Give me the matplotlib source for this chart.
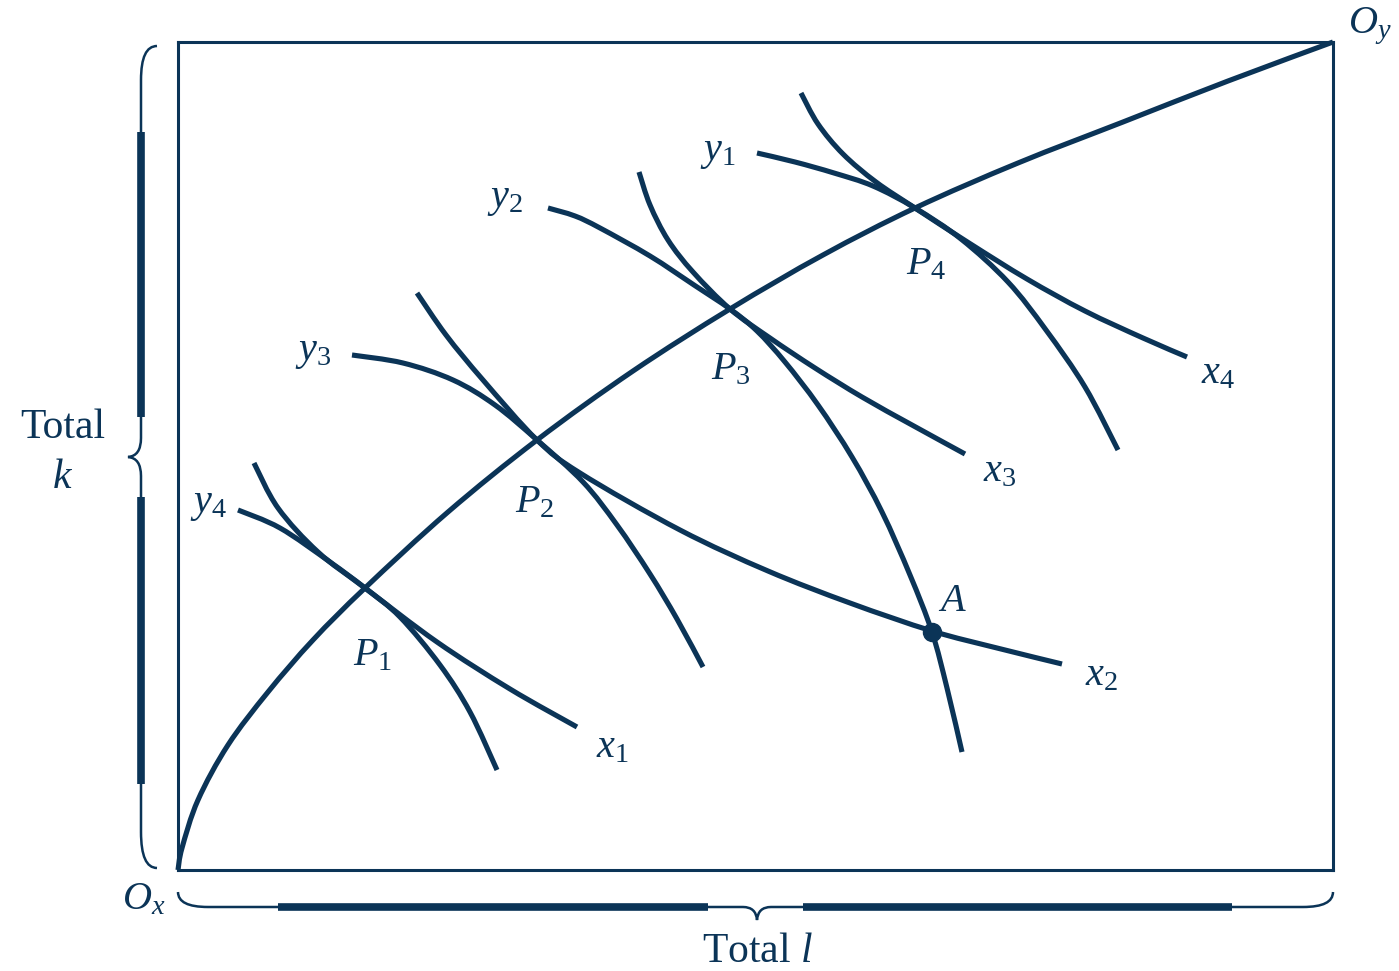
import matplotlib
matplotlib.use('Agg')
import matplotlib.pyplot as plt
from matplotlib.path import Path
from matplotlib.patches import PathPatch

plt.rcParams['font.family'] = ['Liberation Serif', 'DejaVu Serif']
plt.rcParams['mathtext.fontset'] = 'custom'
plt.rcParams['mathtext.it'] = 'Liberation Serif:italic'
plt.rcParams['mathtext.rm'] = 'Liberation Serif'

NAVY = '#0b3457'

# Box dimensions (total l horizontally, total k vertically, measured from O_x)
L_TOTAL = 1155
K_TOTAL = 828

# Contract curve from O_x to O_y
contract_l = [0, 4, 20, 50, 90, 135, 187, 270, 359, 455, 552, 645, 737, 840, 945, 1050, 1155]
contract_k = [0, 22, 70, 125, 178, 230, 282, 358, 430, 499, 561, 615, 662, 707, 748, 789, 828]

# Isoquants of good x (convex to O_x)
x1_l = [76, 100, 140, 187, 259, 332, 399]
x1_k = [407, 362, 318, 282, 228, 181, 143]
x2_l = [239, 268, 305, 359, 402, 502, 590, 672, 754, 819, 884]
x2_k = [577, 535, 490, 430, 397, 340, 299, 267, 239, 222, 206]
x3_l = [461, 472, 490, 515, 552, 592, 637, 684, 734, 787]
x3_k = [698, 665, 630, 598, 561, 532, 502, 473, 445, 416]
x4_l = [623, 640, 665, 698, 737, 791, 849, 907, 965, 1009]
x4_k = [777, 746, 716, 688, 662, 627, 591, 559, 532, 513]

# Isoquants of good y (convex to O_y)
y1_l = [579, 617, 656, 695, 737, 783, 830, 868, 907, 940]
y1_k = [717, 708, 697, 684, 662, 631, 588, 540, 483, 420]
y2_l = [370, 397, 422, 472, 516, 552, 579, 607, 640, 674, 704, 732, 754, 769, 784]
y2_k = [662, 654, 642, 614, 585, 561, 539, 508, 465, 413, 358, 295, 238, 182, 118]
y3_l = [174, 225, 275, 317, 359, 405, 439, 472, 499, 525]
y3_k = [515, 507, 490, 465, 430, 388, 345, 296, 251, 203]
y4_l = [60, 102, 152, 187, 222, 262, 292, 319]
y4_k = [360, 342, 308, 282, 253, 205, 158, 100]

# Point A (off the contract curve)
A_l = [754]
A_k = [238]


def smooth_path(xs, ys):
    pts = list(zip(xs, ys))
    n = len(pts)
    verts = [pts[0]]
    codes = [Path.MOVETO]
    for i in range(n - 1):
        p0 = pts[i - 1] if i > 0 else pts[i]
        p1 = pts[i]
        p2 = pts[i + 1]
        p3 = pts[i + 2] if i + 2 < n else pts[i + 1]
        c1 = (p1[0] + (p2[0] - p0[0]) / 6.0, p1[1] + (p2[1] - p0[1]) / 6.0)
        c2 = (p2[0] - (p3[0] - p1[0]) / 6.0, p2[1] - (p3[1] - p1[1]) / 6.0)
        verts += [c1, c2, p2]
        codes += [Path.CURVE4] * 3
    return Path(verts, codes)


W, H = 1399, 971
fig = plt.figure(figsize=(W / 100, H / 100), dpi=100)
ax = fig.add_axes([178 / W, 101 / H, 1155 / W, 828 / H])
ax.set_xlim(0, L_TOTAL)
ax.set_ylim(0, K_TOTAL)
ax.set_xticks([])
ax.set_yticks([])
for s in ax.spines.values():
    s.set_color(NAVY)
    s.set_linewidth(2.2)

CURVE_LW = 3.7
for xs, ys in [(contract_l, contract_k), (x1_l, x1_k), (x2_l, x2_k), (x3_l, x3_k), (x4_l, x4_k),
               (y1_l, y1_k), (y2_l, y2_k), (y3_l, y3_k), (y4_l, y4_k)]:
    ax.add_patch(PathPatch(smooth_path(xs, ys), facecolor='none', edgecolor=NAVY,
                           lw=CURVE_LW, capstyle='butt', joinstyle='round', clip_on=False))

ax.plot(A_l, A_k, 'o', color=NAVY, ms=13, clip_on=False)


def px(x, y):
    return (x - 178, 870 - y)


FS = 29
labels = [
    (r'$y_1$', 718, 152), (r'$y_2$', 505, 199), (r'$y_3$', 313, 352), (r'$y_4$', 208, 504),
    (r'$x_1$', 612, 748), (r'$x_2$', 1101, 676), (r'$x_3$', 1000, 472), (r'$x_4$', 1218, 374),
    (r'$P_1$', 373, 656), (r'$P_2$', 535, 503), (r'$P_3$', 731, 370), (r'$P_4$', 926, 265),
    (r'$A$', 952, 601), (r'$O_x$', 144, 900), (r'$O_y$', 1370, 26),
]
for t, x, y in labels:
    ax.text(*px(x, y), t, fontsize=FS, color=NAVY, ha='center', va='center')

ax.text(*px(63, 428), 'Total', fontsize=FS + 1, color=NAVY, ha='center', va='center')
ax.text(*px(63, 478), r'$k$', fontsize=FS + 1, color=NAVY, ha='center', va='center')
ax.text(*px(757, 952), r'Total $l$', fontsize=FS + 1, color=NAVY, ha='center', va='center')

# Left brace (Total k)
bx = -37
lv = [(-21, 824), (bx, 824), (bx, 790), (bx, 432), (bx, 414), (-50, 413), (bx, 412), (bx, 394),
      (bx, 38), (bx, 2), (-21, 2)]
lc = [Path.MOVETO, Path.CURVE3, Path.CURVE3, Path.LINETO, Path.CURVE3, Path.CURVE3,
      Path.CURVE3, Path.CURVE3, Path.LINETO, Path.CURVE3, Path.CURVE3]
ax.add_patch(PathPatch(Path(lv, lc), facecolor='none', edgecolor=NAVY, lw=1.8, clip_on=False))
ax.plot([bx, bx], [738, 453], color=NAVY, lw=5.5, solid_capstyle='butt', clip_on=False)
ax.plot([bx, bx], [373, 86], color=NAVY, lw=5.5, solid_capstyle='butt', clip_on=False)

# Bottom brace (Total l)
by = -37
bv = [(0, -22), (0, by), (30, by), (565, by), (578, by), (579, -50), (580, by), (593, by),
      (1125, by), (1155, by), (1155, -22)]
bc = [Path.MOVETO, Path.CURVE3, Path.CURVE3, Path.LINETO, Path.CURVE3, Path.CURVE3,
      Path.CURVE3, Path.CURVE3, Path.LINETO, Path.CURVE3, Path.CURVE3]
ax.add_patch(PathPatch(Path(bv, bc), facecolor='none', edgecolor=NAVY, lw=1.8, clip_on=False))
ax.plot([100, 530], [by, by], color=NAVY, lw=5.5, solid_capstyle='butt', clip_on=False)
ax.plot([625, 1054], [by, by], color=NAVY, lw=5.5, solid_capstyle='butt', clip_on=False)

fig.savefig('out.png', dpi=100, facecolor='white')
